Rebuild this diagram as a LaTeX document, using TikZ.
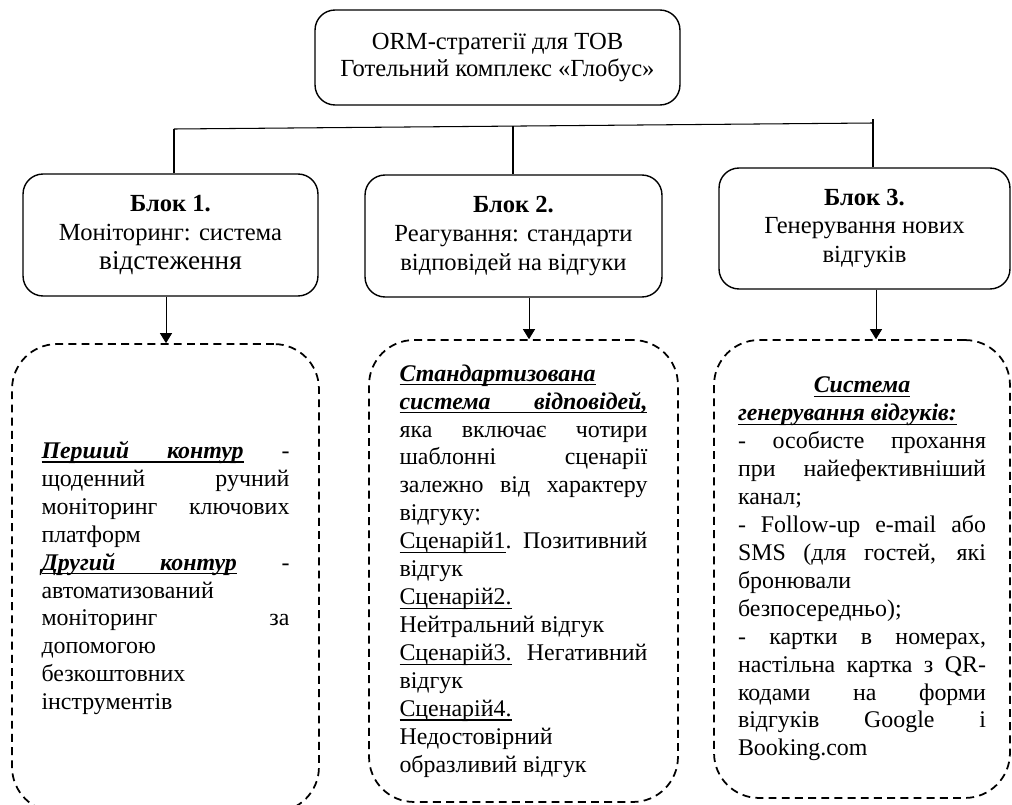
\documentclass[tikz,border=0pt]{standalone}
\usepackage{fontspec}
\setmainfont{Liberation Serif}
\usepackage{tikz}
\usetikzlibrary{positioning,arrows.meta}
% underlined word and underlined (stretchable) space
\newcommand{\ulw}[1]{\setbox0\hbox{#1}\rlap{\vrule height -1.7pt depth 2.4pt width \wd0}\box0\relax}
\newcommand{\ulsp}{\leaders\hrule height -1.7pt depth 2.4pt\hskip\fontdimen2\font plus\fontdimen3\font minus\fontdimen4\font\relax}
\newcommand{\keyph}[1]{\ulw{\textbf{\textit{#1}}}}

\begin{document}
\begin{tikzpicture}[
    x=0.02cm, y=-0.02cm,
    font=\fontsize{14}{16.5}\selectfont,
    block/.style={rectangle, draw, rounded corners=0.4cm, line width=0.8pt,
                  align=center, inner sep=2pt},
    note/.style={rectangle, draw, dash pattern=on 4.5pt off 3pt,
                 rounded corners=0.9cm, line width=1pt, text width=4.96cm,
                 align=justify, inner sep=0pt, font=\fontsize{13.6}{15.9}\selectfont},
    arrow/.style={-{Triangle[length=2mm, width=2.4mm]}, line width=0.5pt},
    link/.style={line width=0.6pt}
]
\useasboundingbox (0,0) rectangle (1012,805);

\node[block, minimum width=7.3cm, minimum height=1.9cm,
      font=\fontsize{14}{15.4}\selectfont] (top) at (497.5,57.5)
     {ORM-стратегії для ТОВ\\Готельний комплекс «Глобус»};

\node[block, minimum width=5.9cm, minimum height=2.44cm] (blk1) at (170.5,235)
     {\textbf{Блок 1.}\\Моніторинг: система\\{\fontsize{15.5}{17}\selectfont відстеження}};
\node[block, minimum width=5.94cm, minimum height=2.44cm] (blk2) at (513.5,236)
     {\textbf{Блок 2.}\\Реагування: стандарти\\відповідей на відгуки};
\node[block, minimum width=5.82cm, minimum height=2.42cm] (blk3) at (864.5,228.5)
     {\textbf{Блок 3.}\\Генерування нових\\відгуків};

\node[note, minimum width=6.14cm, minimum height=9.36cm] (mon) at (165.5,578) {%
\keyph{Перший}\ulsp\keyph{контур} -\linebreak
щоденний ручний\linebreak
моніторинг ключових\linebreak
платформ\newline
\keyph{Другий}\ulsp\keyph{контур} -\linebreak
автоматизований\newline
моніторинг за\linebreak
допомогою\newline
безкоштовних\newline
інструментів};

\node[note, minimum width=6.18cm, minimum height=9.24cm] (resp) at (523.5,571) {%
\keyph{Стандартизована}\newline
\keyph{система}\ulsp\keyph{відповідей,}\linebreak
яка включає чотири\linebreak
шаблонні сценарії\linebreak
залежно від характеру\linebreak
відгуку:\newline
\ulw{Сценарій1}. Позитивний\linebreak
відгук\newline
\ulw{Сценарій2.}\newline
Нейтральний відгук\newline
\ulw{Сценарій3.} Негативний\linebreak
відгук\newline
\ulw{Сценарій4.}\newline
Недостовірний\newline
образливий відгук};

\node[note, minimum width=5.92cm, minimum height=9.16cm] (gen) at (862,569) {%
\makebox[\linewidth]{\keyph{Система}}\newline
\keyph{генерування}\ulsp\keyph{відгуків:}\newline
- особисте прохання\linebreak
при найефективніший\linebreak
канал;\newline
- Follow-up e-mail або\linebreak
SMS (для гостей, які\linebreak
бронювали\newline
безпосередньо);\newline
- картки в номерах,\linebreak
настільна картка з QR-\linebreak
кодами на форми\linebreak
відгуків Google і\linebreak
Booking.com};

% tree under the title (not joined to it)
\coordinate (busL) at (174,129);
\coordinate (busM) at (513,126);
\coordinate (busR) at (873,123);
\coordinate (busT) at (873,119);
\draw[link] (busL) -- (busR);
\draw[link] (busL) -- (busL |- blk1.north);
\draw[link] (busM) -- (busM |- blk2.north);
\draw[link] (busT) -- (busT |- blk3.north);

% blocks to their contents
\coordinate (c1) at (166,0);
\coordinate (c2) at (529,0);
\coordinate (c3) at (876,0);
\draw[arrow] (blk1.south -| c1) -- (mon.north -| c1);
\draw[arrow] (blk2.south -| c2) -- (resp.north -| c2);
\draw[arrow] (blk3.south -| c3) -- (gen.north -| c3);
\end{tikzpicture}
\end{document}
